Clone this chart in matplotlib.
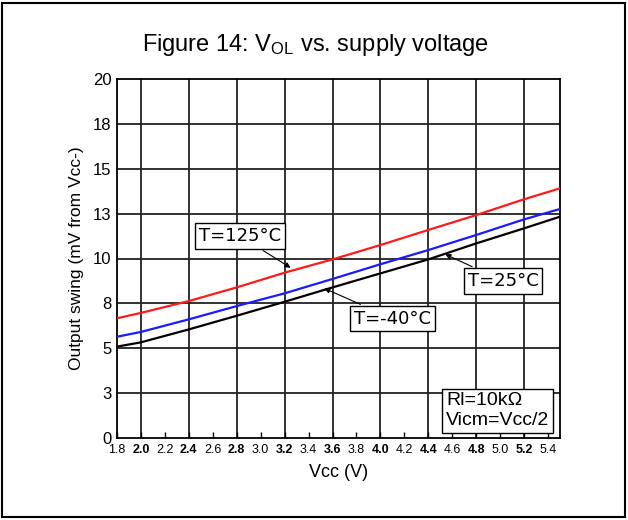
import matplotlib.pyplot as plt
from matplotlib.patches import Rectangle

plt.rcParams['font.family'] = ['Liberation Sans', 'DejaVu Sans']
plt.rcParams['mathtext.default'] = 'regular'

# supply voltage (V) and output swing from Vcc- (mV)
vcc = [1.8, 2.0, 2.4, 2.8, 3.2, 3.6, 4.0, 4.4, 4.8, 5.2, 5.5]
swing_125 = [6.67, 6.97, 7.63, 8.39, 9.21, 9.95, 10.75, 11.59, 12.42, 13.30, 13.91]
swing_m40 = [5.64, 5.91, 6.61, 7.35, 8.06, 8.86, 9.68, 10.47, 11.31, 12.18, 12.76]
swing_25 = [5.09, 5.33, 6.05, 6.81, 7.59, 8.39, 9.17, 9.95, 10.84, 11.68, 12.33]

y_ticks = [0, 2.5, 5, 7.5, 10, 12.5, 15, 17.5, 20]
y_labels = ['0', '3', '5', '8', '10', '13', '15', '18', '20']
x_ticks = [1.8, 2.0, 2.2, 2.4, 2.6, 2.8, 3.0, 3.2, 3.4, 3.6, 3.8, 4.0,
           4.2, 4.4, 4.6, 4.8, 5.0, 5.2, 5.4]
x_grid = [2.0, 2.4, 2.8, 3.2, 3.6, 4.0, 4.4, 4.8, 5.2]

fig = plt.figure(figsize=(6.28, 5.2), dpi=100)
ax = fig.add_axes([117/628, 82/520, 443/628, 359/520])

# grid drawn by hand so only every other x tick gets a line
for x in x_grid:
    ax.axvline(x, color='#222222', lw=1.3, zorder=1)
for y in y_ticks[1:-1]:
    ax.axhline(y, color='#222222', lw=1.3, zorder=1)

ax.plot(vcc, swing_125, color='#ff1a1a', lw=1.6, zorder=3)
ax.plot(vcc, swing_m40, color='#1a1aff', lw=1.6, zorder=3)
ax.plot(vcc, swing_25, color='black', lw=1.6, zorder=3)

ax.set_xlim(1.8, 5.5)
ax.set_ylim(0, 20)
ax.set_yticks(y_ticks)
ax.set_yticklabels(y_labels, fontsize=12)
ax.set_xticks(x_ticks)
ax.set_xticklabels(['%.1f' % x for x in x_ticks], fontsize=9)
for i, lab in enumerate(ax.get_xticklabels()):
    if i % 2 == 1:
        lab.set_fontweight('bold')
ax.tick_params(axis='x', direction='in', length=4, width=1, pad=4)
ax.tick_params(axis='y', direction='in', length=0, pad=4)
for s in ax.spines.values():
    s.set_linewidth(1.3)

ax.set_xlabel('Vcc (V)', fontsize=13, labelpad=6)
ax.set_ylabel('Output swing (mV from Vcc-)', fontsize=12.5, labelpad=6)

fig.text(0.503, 0.913, 'Figure 14: V$_{OL}$ vs. supply voltage', fontsize=17,
         ha='center', va='center')

box = dict(boxstyle='square,pad=0.2', fc='white', ec='black', lw=1)
arrow = dict(arrowstyle='-|>', color='black', lw=0.8, mutation_scale=8)
ax.annotate('T=125°C', xy=(3.27, 9.40), xytext=(3.17, 10.75),
            fontsize=13, family='DejaVu Sans', ha='right', va='bottom',
            bbox=box, arrowprops=arrow, zorder=5)
ax.annotate('T=-40°C', xy=(3.51, 8.40), xytext=(3.78, 6.15),
            fontsize=13, family='DejaVu Sans', ha='left', va='bottom',
            bbox=box, arrowprops=arrow, zorder=5)
ax.annotate('T=25°C', xy=(4.52, 10.30), xytext=(4.73, 8.25),
            fontsize=13, family='DejaVu Sans', ha='left', va='bottom',
            bbox=box, arrowprops=arrow, zorder=5)

ax.text(4.55, 0.5, 'Rl=10kΩ\nVicm=Vcc/2', fontsize=14, ha='left', va='bottom',
        linespacing=1.2, zorder=5,
        bbox=dict(boxstyle='square,pad=0.2', fc='white', ec='black', lw=1))

fig.patches.append(Rectangle((2/628, 3/520), 623/628, 514/520, transform=fig.transFigure,
                             fill=False, ec='black', lw=1.5))

fig.savefig('out.png', dpi=100)
